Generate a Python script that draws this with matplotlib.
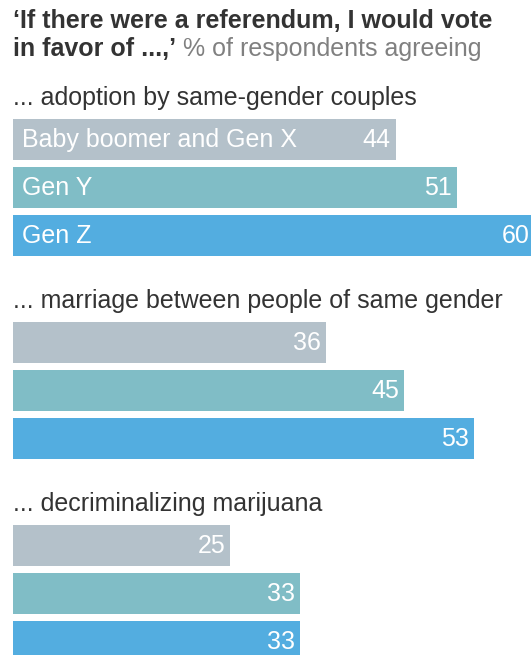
import matplotlib
matplotlib.use("Agg")
import matplotlib.pyplot as plt

plt.rcParams["font.family"] = ["Liberation Sans", "DejaVu Sans"]

generations = ["Baby boomer and Gen X", "Gen Y", "Gen Z"]
questions = [
    "... adoption by same-gender couples",
    "... marriage between people of same gender",
    "... decriminalizing marijuana",
]
adoption = [44, 51, 60]
marriage = [36, 45, 53]
marijuana = [25, 33, 33]
values = [adoption, marriage, marijuana]

colors = ["#b4c1ca", "#80bdc6", "#53ade0"]
dark = "#333333"
grey = "#808080"
fs = 18

W, H = 531, 655
fig = plt.figure(figsize=(W / 100, H / 100), dpi=100)
ax = fig.add_axes([0, 0, 1, 1])
# 8.7 px per percentage point, bars start 13 px from the left edge
px = 8.7
ax.set_xlim(-13 / px, (W - 13) / px)
ax.set_ylim(H, 0)
ax.axis("off")

# title: bold quote, then grey unit note on the second line
ax.text(0, 21, "\u2018If there were a referendum, I would vote",
        fontsize=fs, fontweight="bold", color=dark, va="center")
t2 = ax.text(0, 49, "in favor of ...,\u2019",
             fontsize=fs, fontweight="bold", color=dark, va="center")
ax.annotate(" % of respondents agreeing", xy=(1, 0), xycoords=t2,
            fontsize=fs, color=grey, va="bottom", ha="left")

group_top = [98, 301, 504]
bar_h = 41
for gi, (q, vals) in enumerate(zip(questions, values)):
    y0 = group_top[gi]
    ax.text(0, y0, q, fontsize=fs, color=dark, va="center")
    for i, v in enumerate(vals):
        y = y0 + 41 + 48 * i
        ax.barh(y, v, height=bar_h, left=0, color=colors[i])
        ax.annotate(str(v), xy=(v, y + 1), xytext=(-5, 0), textcoords="offset pixels",
                    ha="right", va="center", fontsize=fs, color="white",
                    annotation_clip=False)
        if gi == 0:
            ax.annotate(generations[i], xy=(0, y + 1), xytext=(9, 0),
                        textcoords="offset pixels", ha="left", va="center",
                        fontsize=fs, color="white")

fig.savefig("out.png", dpi=100)
